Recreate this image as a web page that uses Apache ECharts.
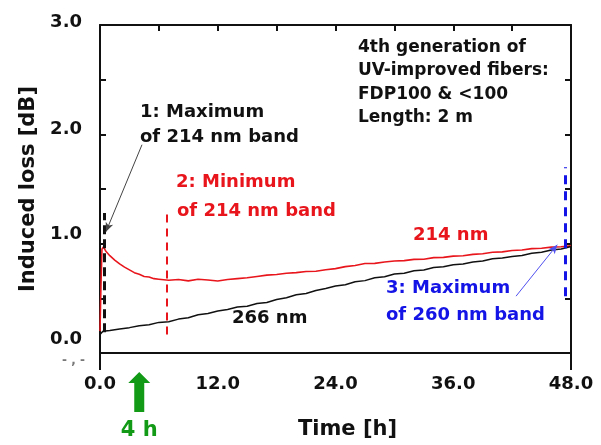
<!DOCTYPE html>
<html>
<head>
<meta charset="utf-8">
<script src="https://cdn.jsdelivr.net/npm/echarts@6/dist/echarts.min.js"></script>
<style>
  html, body { margin: 0; padding: 0; background: #fff; }
  #main { width: 601px; height: 445px; }
</style>
</head>
<body>
<div id="main"></div>
<script>
// 214 nm band (red) induced loss [dB] vs time [h]
const hours214 = [0, 0.1, 0.2, 0.35, 0.6, 1, 1.5, 2, 2.5, 3, 3.5, 4, 4.5, 5, 5.5, 6,
  7, 8, 9, 10, 11, 12, 13, 14, 15, 16, 17, 18, 19, 20, 21, 22, 23, 24, 25, 26, 27,
  28, 29, 30, 31, 32, 33, 34, 35, 36, 37, 38, 39, 40, 41, 42, 43, 44, 45, 46, 47, 48];
const loss214 = [0.20, 0.62, 0.95, 0.97, 0.93, 0.89, 0.85, 0.815, 0.785, 0.76, 0.735, 0.72, 0.70, 0.695, 0.68, 0.675,
  0.665, 0.672, 0.66, 0.675, 0.668, 0.658, 0.672, 0.68, 0.688, 0.70, 0.712, 0.718, 0.73, 0.735, 0.745, 0.748, 0.762, 0.772, 0.79, 0.80, 0.818,
  0.82, 0.832, 0.842, 0.845, 0.856, 0.858, 0.872, 0.875, 0.886, 0.89, 0.902, 0.908, 0.922, 0.925, 0.938, 0.942, 0.955, 0.958, 0.968, 0.972, 0.98];

// 266 nm (black)
const hours266 = [0, 0.3, 1, 2, 3, 4, 5, 6, 7, 8, 9, 10, 11, 12, 13, 14, 15, 16, 17, 18, 19, 20, 21, 22, 23, 24,
  25, 26, 27, 28, 29, 30, 31, 32, 33, 34, 35, 36, 37, 38, 39, 40, 41, 42, 43, 44, 45, 46, 47, 48];
const loss266 = [0.17, 0.20, 0.205, 0.22, 0.232, 0.25, 0.258, 0.28, 0.285, 0.31, 0.322, 0.35, 0.362, 0.385, 0.398, 0.42, 0.428, 0.452, 0.462, 0.49, 0.505, 0.532, 0.545, 0.572, 0.59, 0.612,
  0.625, 0.652, 0.662, 0.688, 0.698, 0.722, 0.73, 0.752, 0.76, 0.782, 0.788, 0.808, 0.815, 0.832, 0.842, 0.862, 0.868, 0.882, 0.892, 0.912, 0.922, 0.942, 0.952, 0.975];

// marker lines: [time, from, to]
const maxBand214 = [0.4, 0.19, 1.28];
const minBand214 = [6.8, 0.17, 1.28];
const maxBand260 = [47.4, 0.52, 1.70];
// annotation arrows: [t0, v0, t1, v1]
const arrow1 = [4.28, 1.905, 0.61, 1.11];
const arrow3 = [42.4, 0.52, 46.6, 0.99];
const irradiationEnd = 4; // green arrow "4 h"

const xTicks = [0, 12, 24, 36, 48];

const FONT = '"DejaVu Sans", "Liberation Sans", Arial, sans-serif';
const RED = '#e8161c';
const BLUE = '#1414e6';
const GREEN = '#129a16';

function pairs(xs, ys) {
  return xs.map(function (x, i) { return [x, ys[i]]; });
}

function vline(m, color, dash, width) {
  return [
    { coord: [m[0], m[1]], symbol: 'none', lineStyle: { color: color, type: dash, width: width } },
    { coord: [m[0], m[2]], symbol: 'none' }
  ];
}

function arrowLine(a, color) {
  return [
    { coord: [a[0], a[1]], symbol: 'none', lineStyle: { color: color, type: 'solid', width: 1 } },
    { coord: [a[2], a[3]], symbol: 'arrow', symbolSize: [6, 9] }
  ];
}

let myChart = echarts.init(document.getElementById('main'));

// the y labels in the original sit a little above their ticks
let yRich = {};
[0, 1, 2, 3].forEach(function (v) {
  let up = { 0: 28, 1: 18, 2: 10, 3: 6 }[v];
  yRich['l' + v] = {
    fontFamily: FONT, fontWeight: 'bold', fontSize: 18, color: '#111',
    padding: [0, 0, up, 0]
  };
});

let frameLine = { show: true, onZero: false, lineStyle: { color: '#111', width: 2 } };
let innerTick = { show: true, inside: true, length: 6, lineStyle: { color: '#111', width: 2 } };

let option = {
  animation: false,
  backgroundColor: '#fff',
  grid: { left: 100, right: 30, top: 25, bottom: 91 },
  xAxis: [{
    type: 'value', min: 0, max: 48, interval: 12,
    name: 'Time [h]', nameLocation: 'middle', nameGap: 66,
    nameTextStyle: { fontFamily: FONT, fontWeight: 'bold', fontSize: 21, color: '#111', padding: [0, 0, 0, 24] },
    axisLine: frameLine,
    axisTick: { show: true, inside: false, length: 17, customValues: [0, 48], lineStyle: { color: '#111', width: 2 } },
    axisLabel: {
      margin: 22, fontFamily: FONT, fontWeight: 'bold', fontSize: 18, color: '#111',
      customValues: xTicks,
      formatter: function (v) { return v.toFixed(1); }
    },
    splitLine: { show: false }
  }, {
    type: 'value', position: 'top', min: 0, max: 48, interval: 6,
    axisLine: frameLine,
    axisTick: innerTick,
    axisLabel: { show: false },
    splitLine: { show: false }
  }],
  yAxis: [{
    type: 'value', min: 0, max: 3, interval: 0.5,
    name: 'Induced loss [dB]', nameLocation: 'middle', nameGap: 56,
    nameTextStyle: { fontFamily: FONT, fontWeight: 'bold', fontSize: 21, color: '#111' },
    axisLine: frameLine,
    axisTick: innerTick,
    axisLabel: {
      margin: 18,
      formatter: function (v) {
        if (v % 1 !== 0) return '';
        return '{l' + v + '|' + v.toFixed(1) + '}';
      },
      rich: yRich
    },
    splitLine: { show: false }
  }, {
    type: 'value', position: 'right', min: 0, max: 3, interval: 0.5,
    axisLine: frameLine,
    axisTick: innerTick,
    axisLabel: { show: false },
    splitLine: { show: false }
  }],
  series: [{
    name: '266 nm',
    type: 'line',
    data: pairs(hours266, loss266),
    showSymbol: false,
    lineStyle: { color: '#111', width: 1.5 },
    z: 3,
    markLine: {
      silent: true, animation: false,
      label: { show: false },
      data: [
        vline(maxBand214, '#111', [9, 5], 3),
        vline(maxBand260, BLUE, [9, 7], 3),
        arrowLine(arrow1, '#444'),
        arrowLine(arrow3, '#5050f0')
      ]
    }
  }, {
    name: '214 nm',
    type: 'line',
    data: pairs(hours214, loss214),
    showSymbol: false,
    lineStyle: { color: RED, width: 1.6 },
    z: 2,
    markLine: {
      silent: true, animation: false,
      label: { show: false },
      data: [vline(minBand214, RED, [8, 6], 2)]
    }
  }]
};
myChart.setOption(option);

function txt(id, s, x, y, color, size, extra) {
  let style = {
    text: s, fill: color,
    font: 'bold ' + size + 'px ' + FONT,
    align: 'left', verticalAlign: 'middle'
  };
  Object.assign(style, extra || {});
  return { id: id, type: 'text', x: x, y: y, z: 100, style: style };
}

let ax = myChart.convertToPixel({ xAxisIndex: 0 }, irradiationEnd);
let graphics = [
  txt('t1a', '1: Maximum', 140, 112, '#111', 18),
  txt('t1b', 'of 214 nm band', 140, 137, '#111', 18),
  txt('t2a', '2: Minimum', 176, 182, RED, 18),
  txt('t2b', 'of 214 nm band', 177, 211, RED, 18),
  txt('t214', '214 nm', 413, 235, RED, 18),
  txt('t266', '266 nm', 232, 318, '#111', 18),
  txt('t3a', '3: Maximum', 384, 288, BLUE, 18, { backgroundColor: '#fff', padding: [1, 2] }),
  txt('t3b', 'of 260 nm band', 384, 315, BLUE, 18, { backgroundColor: '#fff', padding: [1, 2] }),
  txt('g1', '4th generation of', 358, 48, '#111', 17),
  txt('g2', 'UV-improved fibers:', 358, 71, '#111', 17),
  txt('g3', 'FDP100 & <100', 358, 95, '#111', 17),
  txt('g4', 'Length: 2 m', 358, 118, '#111', 17),
  txt('h4', '4 h', ax, 431, GREEN, 21, { align: 'center' }),
  txt('junk', '- , -', 62, 361, '#777', 12),
  {
    id: 'greenArrow', type: 'polygon', z: 100,
    shape: {
      points: [
        [ax, 372], [ax + 11, 383], [ax + 5, 383], [ax + 5, 412],
        [ax - 5, 412], [ax - 5, 383], [ax - 11, 383]
      ]
    },
    style: { fill: GREEN }
  }
];
myChart.setOption({ graphic: graphics });

window.onresize = function () {
  myChart.resize();
};
</script>
</body>
</html>
